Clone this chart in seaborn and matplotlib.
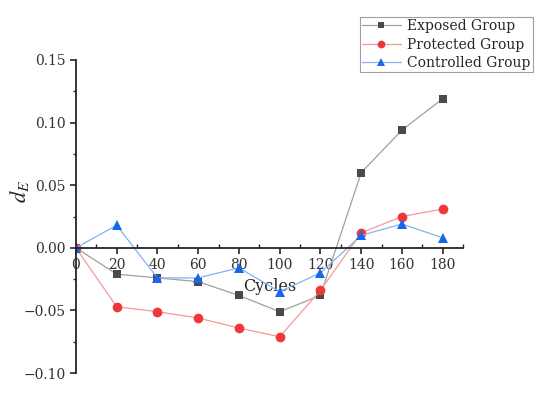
import pandas as pd
import matplotlib.pyplot as plt
import seaborn as sns
from matplotlib.ticker import MultipleLocator, FuncFormatter

cycles = [0, 20, 40, 60, 80, 100, 120, 140, 160, 180]
exposed = [0.0, -0.021, -0.024, -0.027, -0.038, -0.051, -0.038, 0.060, 0.094, 0.119]
protected = [0.0, -0.047, -0.051, -0.056, -0.064, -0.071, -0.034, 0.012, 0.025, 0.031]
controlled = [0.0, 0.018, -0.024, -0.024, -0.016, -0.035, -0.020, 0.010, 0.019, 0.008]

groups = ['Exposed Group', 'Protected Group', 'Controlled Group']
series = [exposed, protected, controlled]
marker_colors = ['#4a4a4a', '#f0383b', '#1767e6']
line_colors = ['#a0a0a0', '#f59a9a', '#82b4f2']
markers = ['s', 'o', '^']
msizes = [6, 7, 7.5]

sns.set_style('ticks')
plt.rcParams['font.family'] = ['DejaVu Serif']
plt.rcParams['mathtext.fontset'] = 'stix'

fig = plt.figure(figsize=(5.5, 3.94), dpi=100)
ax = fig.add_axes([0.138, 0.053, 0.704, 0.795])

for name, vals, mc, lc, m, ms in zip(groups, series, marker_colors, line_colors, markers, msizes):
    df = pd.DataFrame({'Cycles': cycles, 'dE': vals})
    sns.lineplot(data=df, x='Cycles', y='dE', ax=ax, color=lc, linewidth=0.9,
                 marker=m, markersize=ms, markerfacecolor=mc, markeredgecolor=mc,
                 markeredgewidth=0, label=name)

ax.set_xlim(0, 190)
ax.set_ylim(-0.10, 0.15)
ax.spines['bottom'].set_position(('data', 0))
ax.spines['top'].set_visible(False)
ax.spines['right'].set_visible(False)
for s in ['left', 'bottom']:
    ax.spines[s].set_linewidth(1.3)

ax.set_xticks(cycles)
ax.xaxis.set_minor_locator(MultipleLocator(10))
ax.yaxis.set_major_locator(MultipleLocator(0.05))
ax.yaxis.set_minor_locator(MultipleLocator(0.025))
ax.yaxis.set_major_formatter(FuncFormatter(lambda v, p: f'{v:.2f}'.replace('-', '\u2212')))
ax.tick_params(axis='x', which='major', direction='out', length=4, width=1.2, labelsize=10, pad=3,
               labelcolor='#333333')
ax.tick_params(axis='x', which='minor', direction='in', length=3, width=1.0)
ax.tick_params(axis='y', which='major', direction='out', length=4, width=1.2, labelsize=10,
               labelcolor='#333333')
ax.tick_params(axis='y', which='minor', direction='out', length=2, width=1.0)

ax.set_xlabel('Cycles', fontsize=11.5, labelpad=5)
ax.set_ylabel('$d_E$', fontsize=16)
ax.yaxis.set_label_coords(-0.115, 0.58)

leg = ax.legend(loc='upper right', bbox_to_anchor=(0.969, 0.957), bbox_transform=fig.transFigure,
                frameon=True, fancybox=False, fontsize=10, borderpad=0.15, labelspacing=0.33,
                handlelength=2.8, handletextpad=0.5, borderaxespad=0, markerscale=0.8)
leg.get_frame().set_edgecolor('#888888')
leg.get_frame().set_linewidth(0.8)

fig.savefig('out.png', dpi=100)
